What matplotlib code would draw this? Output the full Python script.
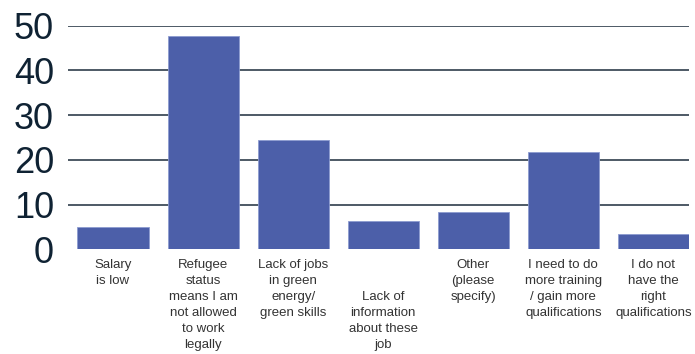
import numpy as np
import matplotlib.pyplot as plt

categories = [
    "Salary\nis low",
    "Refugee\nstatus\nmeans I am\nnot allowed\nto work\nlegally",
    "Lack of jobs\nin green\nenergy/\ngreen skills",
    "\n\nLack of\ninformation\nabout these\njob",
    "Other\n(please\nspecify)",
    "I need to do\nmore training\n/ gain more\nqualifications",
    "I do not\nhave the\nright\nqualifications",
]
values = [5.0, 47.8, 24.4, 6.4, 8.4, 21.8, 3.5]
yticks = [0, 10, 20, 30, 40, 50]

bar_color = "#4c5fa9"
grid_color = "#1d2c3c"

fig = plt.figure(figsize=(6.95, 3.54), dpi=100)
ax = fig.add_axes([68 / 695, 1 - 249.3 / 354, (689 - 68) / 695, (249.3 - 25.7) / 354])

x = np.arange(len(categories))
ax.bar(x, values, width=0.79, color=bar_color, edgecolor="#8c9bd0", linewidth=0.6, zorder=3)

ax.set_xlim(-0.5, 6.395)
ax.set_ylim(0, 50)
ax.set_yticks(yticks)
ax.set_yticklabels([str(t) for t in yticks], fontsize=26, color="#0f2233", family="Liberation Sans")
for t in yticks[1:]:
    ax.axhline(t, color=grid_color, lw=1.1, zorder=1)

ax.set_xticks(x)
ax.set_xticklabels(categories, fontsize=9.5, color="#333333", family="Liberation Sans",
                   linespacing=1.45, va="top")
ax.tick_params(axis="x", length=0, pad=7)
ax.tick_params(axis="y", length=0, pad=10)
for s in ax.spines.values():
    s.set_visible(False)

fig.savefig("out.png", dpi=100)
